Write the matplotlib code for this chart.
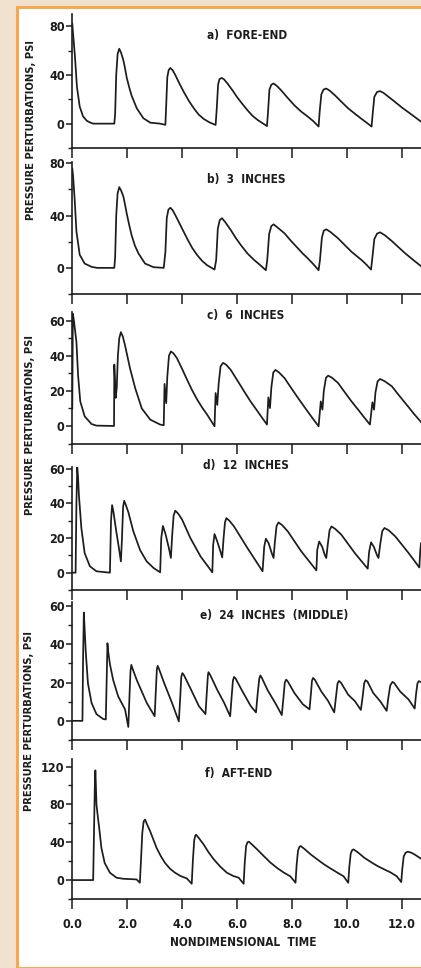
import matplotlib
matplotlib.use("Agg")
import matplotlib.pyplot as plt
from matplotlib.patches import Rectangle
from matplotlib.ticker import MultipleLocator

plt.rcParams['font.family'] = ['DejaVu Sans Condensed', 'DejaVu Sans']
plt.rcParams['font.stretch'] = 'condensed'
plt.rcParams['font.weight'] = 'bold'

###### dados (tempo, pressao) ######
fore_end = [(0.00, 82), (0.02, 76), (0.09, 57), (0.17, 30), (0.27, 14), (0.39, 6), (0.52, 2.5),
            (0.64, 1), (0.76, 0), (1.53, 0), (1.56, 8), (1.60, 40), (1.65, 57), (1.71, 61.5),
            (1.78, 58), (1.86, 52), (1.92, 45.5), (1.98, 38), (2.07, 30), (2.16, 23), (2.35, 12.5),
            (2.59, 4.4), (2.84, 0.8), (3.20, 0), (3.39, -1), (3.42, 15), (3.46, 38), (3.51, 44),
            (3.57, 45.7), (3.65, 44), (3.75, 40), (3.90, 33), (4.06, 26), (4.25, 18.5), (4.43, 12.5),
            (4.60, 7.5), (4.79, 3.8), (5.00, 1), (5.22, -1.1), (5.26, 12), (5.31, 32), (5.36, 36.5),
            (5.44, 37.5), (5.52, 36.5), (5.65, 33), (5.83, 27.5), (6.01, 21.5), (6.20, 16), (6.38, 11),
            (6.56, 6.5), (6.75, 3), (6.92, 0.5), (7.09, -2), (7.13, 10), (7.18, 28), (7.25, 32),
            (7.33, 33), (7.45, 31), (7.60, 27.5), (7.85, 21), (8.09, 15), (8.33, 10), (8.58, 5.7),
            (8.78, 2), (8.97, -2.4), (9.01, 10), (9.07, 24), (9.15, 28), (9.25, 28.8), (9.38, 27),
            (9.56, 23.4), (9.80, 18), (10.05, 12.5), (10.30, 8), (10.54, 3.8), (10.72, 0.8),
            (10.90, -2.4), (10.94, 8), (11.00, 22), (11.10, 26), (11.21, 26.7), (11.33, 25.3),
            (11.52, 22), (11.76, 17.7), (12.00, 13.3), (12.25, 9.2), (12.49, 5.2), (12.78, 0.3)]

tres_pol = [(0.00, 76), (0.03, 70), (0.09, 51), (0.15, 28), (0.27, 10), (0.45, 3.3), (0.70, 0.8),
            (0.90, 0), (1.53, 0), (1.56, 8), (1.60, 40), (1.65, 57), (1.71, 61.8), (1.78, 59),
            (1.86, 54.6), (1.92, 48.5), (1.98, 41.8), (2.07, 33), (2.16, 25), (2.28, 17), (2.41, 11),
            (2.65, 3.3), (2.96, 0.5), (3.33, 0), (3.39, 12), (3.44, 38), (3.50, 44.5), (3.57, 46),
            (3.66, 44), (3.81, 38), (4.00, 30), (4.18, 22.5), (4.36, 15.5), (4.55, 9.7), (4.73, 5.3),
            (4.91, 2), (5.18, -1.3), (5.24, 6), (5.30, 30), (5.37, 36.5), (5.45, 38), (5.57, 35),
            (5.77, 29), (5.95, 23), (6.14, 17.4), (6.38, 11), (6.63, 5.9), (6.85, 2), (7.05, -1.8),
            (7.10, 6), (7.17, 26), (7.25, 32), (7.33, 33.3), (7.47, 31), (7.73, 26.4), (7.97, 20.5),
            (8.22, 14.9), (8.40, 10.8), (8.58, 7.2), (8.78, 2.8), (8.97, -1.8), (9.02, 6), (9.09, 23),
            (9.16, 28.5), (9.25, 29.5), (9.40, 27.5), (9.68, 22.6), (9.92, 17.5), (10.17, 12.3),
            (10.36, 9), (10.54, 5.9), (10.72, 2.3), (10.88, -1.3), (10.93, 8), (11.00, 22),
            (11.10, 26.2), (11.21, 27.2), (11.38, 25), (11.64, 20.5), (11.88, 15.8), (12.13, 11),
            (12.45, 5.5), (12.78, 0)]

seis_pol = [(0.00, 10), (0.02, 64), (0.06, 60), (0.15, 48), (0.21, 29), (0.29, 14), (0.45, 5.5),
            (0.70, 1.1), (0.88, 0.2), (1.52, 0), (1.53, 35), (1.58, 16), (1.62, 22), (1.66, 40),
            (1.71, 50), (1.77, 53.5), (1.84, 51), (1.92, 46), (2.10, 33), (2.29, 21.6), (2.53, 10),
            (2.84, 3.6), (3.20, 0.8), (3.33, 0.4), (3.36, 24), (3.42, 13), (3.46, 28), (3.52, 40),
            (3.59, 42.5), (3.68, 41.5), (3.81, 38.7), (4.00, 32.5), (4.18, 26.4), (4.36, 20.5),
            (4.55, 15), (4.73, 10.5), (4.91, 6.5), (5.18, -0.2), (5.22, 18.8), (5.28, 12), (5.33, 24),
            (5.40, 34), (5.49, 36), (5.60, 35), (5.77, 32), (6.01, 26), (6.26, 19.7), (6.50, 13.8),
            (6.75, 8.3), (6.93, 4.3), (7.09, 0.8), (7.14, 16.3), (7.20, 10.2), (7.25, 22), (7.32, 30.5),
            (7.40, 32), (7.53, 30.5), (7.73, 27.3), (7.97, 21.7), (8.22, 16), (8.46, 10.7), (8.70, 5.5),
            (8.97, -0.2), (9.05, 14), (9.11, 9.3), (9.16, 20), (9.24, 27.5), (9.32, 28.7), (9.46, 27.5),
            (9.68, 24.5), (9.92, 19.3), (10.17, 14), (10.39, 9.7), (10.60, 5.5), (10.84, 0.8),
            (10.93, 13.5), (10.99, 9.3), (11.04, 19), (11.12, 25.5), (11.21, 26.8), (11.38, 25.5),
            (11.64, 22.6), (11.88, 17.8), (12.13, 13), (12.45, 6.8), (12.78, 0.8)]

doze_pol = [(0.00, 0), (0.12, 0), (0.15, 40), (0.18, 61), (0.21, 55), (0.24, 45), (0.33, 25.8),
            (0.45, 11.3), (0.64, 3.7), (0.88, 0.8), (1.37, 0), (1.41, 30), (1.45, 39), (1.50, 35),
            (1.60, 24), (1.70, 14), (1.77, 6.5), (1.81, 20), (1.85, 38), (1.89, 41.5), (1.95, 39),
            (2.04, 35), (2.22, 24), (2.47, 13), (2.71, 6.5), (2.96, 2.7), (3.20, 0.2), (3.24, 20),
            (3.30, 27), (3.40, 22), (3.52, 14), (3.59, 8.5), (3.64, 22), (3.69, 33), (3.75, 35.8),
            (3.86, 34), (4.00, 30.6), (4.30, 20), (4.67, 9.4), (5.10, 0.2), (5.13, 16), (5.18, 22.3),
            (5.28, 18), (5.40, 12), (5.46, 8.8), (5.51, 20), (5.56, 29), (5.61, 31.5), (5.72, 30),
            (5.89, 26.7), (6.38, 14.2), (6.93, 0.8), (6.99, 15), (7.05, 19.6), (7.15, 17), (7.27, 11),
            (7.33, 8.5), (7.38, 18), (7.44, 27), (7.51, 29), (7.64, 27.5), (7.85, 23.8), (8.34, 12.3),
            (8.89, 1.3), (8.92, 13), (8.99, 18), (9.10, 15), (9.20, 10), (9.25, 8.5), (9.31, 17),
            (9.37, 24.5), (9.44, 26.7), (9.58, 25.2), (9.80, 21.9), (10.29, 11.3), (10.76, 2.3),
            (10.81, 12), (10.88, 17.5), (10.98, 15), (11.10, 10), (11.15, 8.5), (11.22, 17),
            (11.29, 24), (11.37, 25.8), (11.52, 24.5), (11.76, 21), (12.25, 11.3), (12.64, 3),
            (12.67, 12), (12.70, 17)]

meio = [(0.00, 0), (0.37, 0), (0.39, 30), (0.42, 56.5), (0.45, 48), (0.49, 36), (0.57, 19.5),
        (0.70, 9.4), (0.88, 3.5), (1.12, 1), (1.22, 0.7), (1.25, 20), (1.28, 40.5), (1.31, 36),
        (1.37, 29.6), (1.49, 21.2), (1.67, 12.8), (1.92, 6), (2.04, -3.2), (2.08, 12), (2.12, 26),
        (2.15, 29.2), (2.20, 27), (2.35, 21.2), (2.71, 9.4), (3.00, 2.4), (3.04, 15), (3.08, 27),
        (3.11, 28.7), (3.16, 27), (3.33, 20.3), (3.63, 9.4), (3.88, -0.3), (3.93, 12), (3.97, 23),
        (4.01, 24.9), (4.06, 24), (4.30, 17), (4.61, 7.7), (4.85, 3.5), (4.90, 15), (4.94, 24),
        (4.96, 25.4), (5.02, 24), (5.28, 16.1), (5.53, 9.4), (5.75, 2.4), (5.80, 12), (5.85, 21),
        (5.89, 22.9), (5.95, 22), (6.20, 15.3), (6.50, 7.7), (6.69, 4.4), (6.75, 14), (6.81, 22),
        (6.85, 23.7), (6.90, 22.5), (7.11, 16.1), (7.42, 8.6), (7.63, 3), (7.69, 12), (7.74, 20),
        (7.79, 21.5), (7.85, 20.5), (8.09, 14.5), (8.40, 8.6), (8.64, 6), (8.69, 14), (8.73, 21),
        (8.77, 22.4), (8.83, 21.5), (9.07, 15.3), (9.32, 10.3), (9.54, 4.4), (9.60, 12), (9.66, 19.5),
        (9.71, 20.8), (9.78, 20), (10.05, 13.6), (10.29, 10.3), (10.51, 5.7), (10.57, 12),
        (10.63, 19.5), (10.68, 21.2), (10.75, 20.5), (10.96, 14.5), (11.21, 10.3), (11.45, 5.2),
        (11.51, 12), (11.58, 18.5), (11.66, 20.3), (11.72, 19.8), (11.94, 15.3), (12.25, 11.1),
        (12.47, 6.4), (12.52, 14), (12.57, 19.5), (12.62, 20.7), (12.74, 20)]

aft_end = [(0.00, 0), (0.76, 0), (0.79, 50), (0.82, 100), (0.84, 116), (0.86, 100), (0.88, 80),
           (0.93, 67), (0.98, 55), (1.06, 34), (1.18, 18), (1.37, 7.8), (1.61, 2.5), (1.85, 1.4),
           (2.34, 0.7), (2.46, -2.8), (2.50, 20), (2.55, 50), (2.60, 62), (2.65, 64), (2.72, 59),
           (2.83, 52), (2.95, 43), (3.07, 34), (3.22, 25.5), (3.38, 18), (3.56, 12), (3.74, 7.8),
           (3.95, 4.2), (4.17, 1.8), (4.35, -3.9), (4.39, 20), (4.44, 42), (4.48, 47), (4.51, 48),
           (4.62, 44), (4.78, 37.8), (4.96, 29.5), (5.15, 22), (5.39, 14.2), (5.63, 7.8), (5.85, 4.5),
           (6.06, 2.5), (6.24, -3.9), (6.28, 18), (6.33, 36), (6.38, 40), (6.43, 40.6), (6.55, 37.5),
           (6.73, 32.5), (6.98, 25.2), (7.22, 18.4), (7.46, 12.8), (7.71, 7.8), (7.94, 4), (8.13, -2.8),
           (8.17, 16), (8.22, 31), (8.27, 35), (8.32, 36), (8.46, 32.8), (8.68, 27.2), (8.93, 21.7),
           (9.17, 16.6), (9.42, 12), (9.66, 7.8), (9.88, 4), (10.05, -2.8), (10.09, 14), (10.14, 28),
           (10.19, 31.5), (10.24, 32.5), (10.40, 29.3), (10.63, 23.7), (10.88, 19), (11.12, 14.8),
           (11.37, 11.2), (11.61, 7.8), (11.82, 4), (11.98, -2.1), (12.02, 12), (12.07, 25),
           (12.14, 29), (12.22, 30), (12.34, 29), (12.46, 27.2), (12.74, 21.9)]

curvas = [fore_end, tres_pol, seis_pol, doze_pol, meio, aft_end]
titulos = ['a)  FORE-END', 'b)  3  INCHES', 'c)  6  INCHES', 'd)  12  INCHES',
           'e)  24  INCHES  (MIDDLE)', 'f)  AFT-END']
y_lims = [(-20, 90), (-20, 81), (-10, 65), (-10, 61), (-10, 62), (-20, 128)]
y_ticks = [[0, 40, 80], [0, 40, 80], [0, 20, 40, 60], [0, 20, 40, 60], [0, 20, 40, 60], [0, 40, 80, 120]]
y_minor = [20, 20, 10, 10, 10, 20]
x_ticks = [0, 2, 4, 6, 8, 10, 12]
x_labels = ['0.0', '2.0', '4.0', '6.0', '8.0', '10.0', '12.0']

###### posicoes em pixels (topo, base) ######
W, H = 421, 968
paineis = [(14, 148), (162, 294), (312, 443.5), (467, 590), (602, 740), (759, 899)]
tit_pos = [(207, 35), (207, 179), (207, 316), (203, 466), (200, 615), (205, 773)]
cor = '#1c1c1c'
fs = 8.5

fig = plt.figure(figsize=(W / 100, H / 100), dpi=100)
fig.patch.set_facecolor('#f1e1cf')
fundo = Rectangle((16.5 / W, 0), 1, 1 - 7 / H, transform=fig.transFigure,
                  facecolor='white', edgecolor='#f6a84e', linewidth=2.2, zorder=-10)
fig.patches.append(fundo)

left = 72.3 / W
for i, (topo, base) in enumerate(paineis):
    ax = fig.add_axes([left, 1 - base / H, 1 - left, (base - topo) / H])
    ax.set_zorder(5)
    ax.patch.set_alpha(0)
    t = [p[0] for p in curvas[i]]
    v = [p[1] for p in curvas[i]]
    ax.plot(t, v, color=cor, lw=1.25, solid_joinstyle='round')
    ax.set_xlim(0, 12.7)
    ax.set_ylim(*y_lims[i])
    for s in ['top', 'right']:
        ax.spines[s].set_visible(False)
    for s in ['left', 'bottom']:
        ax.spines[s].set_color(cor)
        ax.spines[s].set_linewidth(1.2)
    ax.set_yticks(y_ticks[i])
    ax.yaxis.set_minor_locator(MultipleLocator(y_minor[i]))
    ax.tick_params(axis='y', which='major', direction='out', length=4, width=1.1, color=cor,
                   labelsize=fs + 0.5, pad=1.5, labelcolor=cor)
    ax.tick_params(axis='y', which='minor', direction='out', length=3, width=1, color=cor)
    ax.set_xticks(x_ticks)
    ax.tick_params(axis='x', which='major', direction='out', length=7, width=1.1, color=cor,
                   labelsize=fs + 0.5, pad=7, labelcolor=cor)
    if i == len(paineis) - 1:
        ax.set_xticklabels(x_labels)
    else:
        ax.set_xticklabels([])
    fig.text(tit_pos[i][0] / W, 1 - tit_pos[i][1] / H, titulos[i], ha='left', va='center',
             fontsize=fs, color=cor)

###### rotulos ######
for xc, yc in [(31, 130), (30, 425), (29, 721)]:
    fig.text(xc / W, 1 - yc / H, 'PRESSURE PERTURBATIONS, PSI', rotation=90, ha='center',
             va='center', fontsize=8, color=cor)
fig.text(243 / W, 1 - 943 / H, 'NONDIMENSIONAL  TIME', ha='center', va='center',
         fontsize=fs, color=cor)

fig.savefig('out.png', dpi=100, facecolor=fig.get_facecolor())
